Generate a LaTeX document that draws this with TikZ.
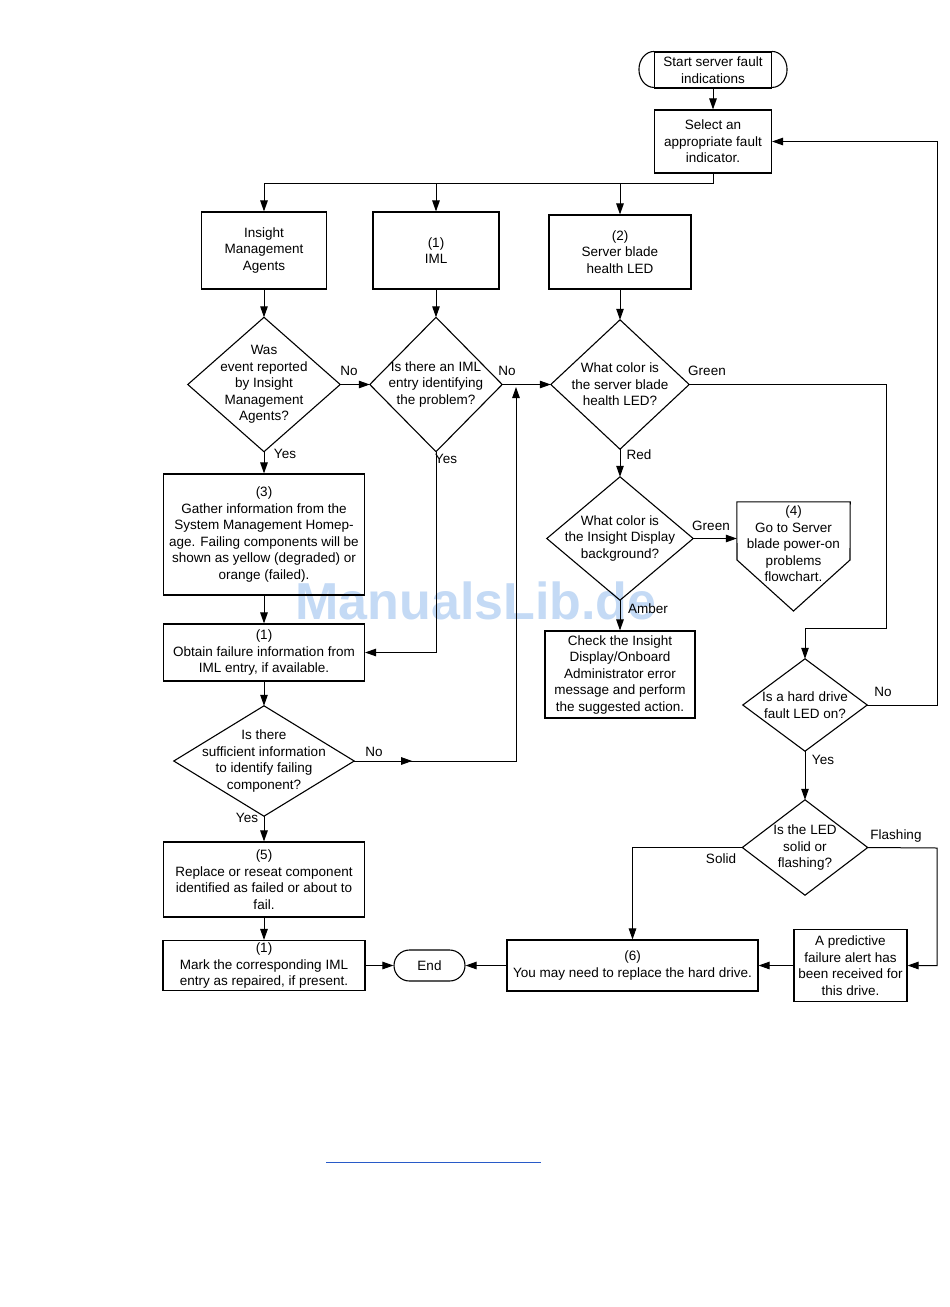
\documentclass[tikz,border=0pt]{standalone}
\usepackage{fontspec}
\setmainfont{Liberation Sans}
\usetikzlibrary{arrows.meta,decorations.markings}
\definecolor{wmblue}{RGB}{196,218,245}
\definecolor{linkblue}{RGB}{40,90,200}
\tikzset{
  txt/.style={font=\fontsize{13.5}{16.5}\selectfont, align=center, inner sep=0pt},
  box/.style={txt, draw, line width=1.1pt, minimum width=#1},
  holder/.style={txt, draw=none},
  shapeline/.style={line width=1.1pt},
  conn/.style={line width=1pt},
  arr/.style={conn, -{Triangle[length=11pt,width=7.5pt]}},
  lbl/.style={font=\fontsize{13.5}{16.5}\selectfont, inner sep=0pt},
  wm/.style={font=\bfseries\fontsize{52}{60}\selectfont, text=wmblue, inner sep=0pt}
}
\begin{document}
\begin{tikzpicture}[x=1pt,y=-1pt]
\useasboundingbox (0,0) rectangle (950,1307);
\fill[white] (0,0) rectangle (950,1307);

% ---- watermark (behind the diagram)
\node[wm] (wmark) at (476,601) {ManualsLib.de};

% ---- top
\node[box=117pt, minimum height=36pt] (start) at (713,70) {Start server fault\\indications};
\draw[shapeline] (start.north west) arc[start angle=90, end angle=270, x radius=15pt, y radius=18pt];
\draw[shapeline] (start.north east) arc[start angle=90, end angle=-90, x radius=15pt, y radius=18pt];
\node[box=117pt, minimum height=63pt] (sel) at (713,141.5) {Select an\\appropriate fault\\indicator.};

\node[box=125pt, minimum height=77pt] (ima) at (264,250.5) {Insight\\Management\\Agents};
\node[box=126pt, minimum height=77pt] (iml) at (436,250.5) {(1)\\IML};
\node[box=142pt, minimum height=74pt] (sb) at (620,252) {(2)\\Server blade\\health LED};

% ---- diamonds
\node[holder, minimum width=152pt, minimum height=134pt] (d1) at (264,384.5) {Was\\event reported\\by Insight\\Management\\Agents?};
\node[holder, minimum width=132pt, minimum height=134pt] (d2) at (436,384.5) {Is there an IML\\entry identifying\\the problem?};
\node[holder, minimum width=138pt, minimum height=129pt] (d3) at (620,384.5) {What color is\\the server blade\\health LED?};
\node[holder, minimum width=146pt, minimum height=123pt] (d4) at (620,538.5) {What color is\\the Insight Display\\background?};
\node[holder, minimum width=124pt, minimum height=92pt] (d5) at (805,705) {Is a hard drive\\fault LED on?};
\node[holder, minimum width=125pt, minimum height=95pt] (d6) at (805,847.5) {Is the LED\\solid or\\flashing?};
\node[holder, minimum width=180pt, minimum height=110pt] (d7) at (264,761) {Is there\\sufficient information\\to identify failing\\component?};
\foreach \n in {d1,d2,d3,d4,d5,d6,d7}
  \draw[shapeline] (\n.north) -- (\n.east) -- (\n.south) -- (\n.west) -- cycle;

% ---- off-page connector (4)
\node[holder, minimum width=113pt, minimum height=84pt] (pent) at (793.5,544) {(4)\\Go to Server\\blade power-on\\problems\\flowchart.};
\coordinate (ptip) at (793.5,611);
\draw[shapeline] (pent.north west) -- (pent.north east) -- (850,560) -- (ptip) -- (737,560) -- cycle;

% ---- other boxes
\node[box=150pt, minimum height=87pt] (chk) at (620,674.5) {Check the Insight\\Display/Onboard\\Administrator error\\message and perform\\the suggested action.};
\node[box=251pt, minimum height=51pt] (b6) at (632.5,965.5) {(6)\\You may need to replace the hard drive.};
\node[box=113pt, minimum height=72pt] (pred) at (850.5,965.5) {A predictive\\failure alert has\\been received for\\this drive.};
\node[box=71pt, minimum height=31pt, rounded corners=15.5pt] (end) at (429.5,965.5) {End};

\node[box=201pt, minimum height=121pt] (b3) at (264,534.5) {(3)\\Gather information from the\\System Management Homep-\\age. Failing components will be\\shown as yellow (degraded) or\\orange (failed).};
\node[box=201pt, minimum height=57pt] (obt) at (264,652.5) {(1)\\Obtain failure information from\\IML entry, if available.};
\node[box=201pt, minimum height=75pt] (b5) at (264,879.5) {(5)\\Replace or reseat component\\identified as failed or about to\\fail.};
\node[box=202pt, minimum height=50pt] (mark) at (264,965.5) {(1)\\Mark the corresponding IML\\entry as repaired, if present.};

% ---- connectors
\draw[arr] (start.south) -- (sel.north);
\coordinate (br) at (713,183);
\draw[arr] (sel.south) -- (br) -| (ima.north);
\draw[arr] (br -| iml.north) -- (iml.north);
\draw[arr] (br -| sb.north) -- (sb.north);
\draw[arr] (ima.south) -- (d1.north);
\draw[arr] (iml.south) -- (d2.north);
\draw[arr] (sb.south) -- (d3.north);
\draw[arr] (d1.east) -- (d2.west);
\draw[arr] (d2.east) -- (d3.west);
\coordinate (g1) at (886,628);
\draw[arr] (d3.east) -| (g1) -| (d5.north);
\draw[arr] (d3.south) -- (d4.north);
\draw[arr] (d4.east) -- (d4.east -| pent.west);
\draw[arr] (d4.south) -- (chk.north);
\coordinate (r1) at (937,705);
\draw[arr] (d5.east) -- (r1) |- (sel.east);
\draw[arr] (d5.south) -- (d6.north);
\coordinate (r2) at (937,848);
\draw[arr] (d6.east) -- (r2) |- (pred.east);
\draw[arr] (d6.west) -| (b6.north);
\draw[arr] (pred.west) -- (b6.east);
\draw[arr] (b6.west) -- (end.east);
\draw[arr] (mark.east) -- (end.west);

\draw[arr] (d1.south) -- (b3.north);
\draw[arr] (b3.south) -- (obt.north);
\draw[arr] (d2.south) |- (obt.east);
\draw[arr] (obt.south) -- (d7.north);
\coordinate (j1) at (516,761);
\coordinate (j2) at (516,387);
\draw[arr, postaction={decorate}, decoration={markings, mark=at position 58pt with {\arrow{Triangle[length=11pt,width=7.5pt]}}}] (d7.east) -- (j1) -- (j2);
\draw[arr] (d7.south) -- (b5.north);
\draw[arr] (b5.south) -- (mark.north);

% ---- labels
\node[lbl] (l1) at (349,371) {No};
\node[lbl] (l2) at (507,371) {No};
\node[lbl] (l3) at (707,371) {Green};
\node[lbl] (l4) at (639,455) {Red};
\node[lbl] (l5) at (711,526) {Green};
\node[lbl] (l6) at (648,609) {Amber};
\node[lbl] (l7) at (285,454) {Yes};
\node[lbl] (l8) at (446,459) {Yes};
\node[lbl] (l9) at (374,752) {No};
\node[lbl] (l10) at (247,818) {Yes};
\node[lbl] (l11) at (883,692) {No};
\node[lbl] (l12) at (823,760) {Yes};
\node[lbl] (l13) at (896,836) {Flashing};
\node[lbl] (l14) at (721,859) {Solid};

% ---- link line
\draw[linkblue, line width=1pt] (326,1162) -- (541,1162);
\end{tikzpicture}
\end{document}
